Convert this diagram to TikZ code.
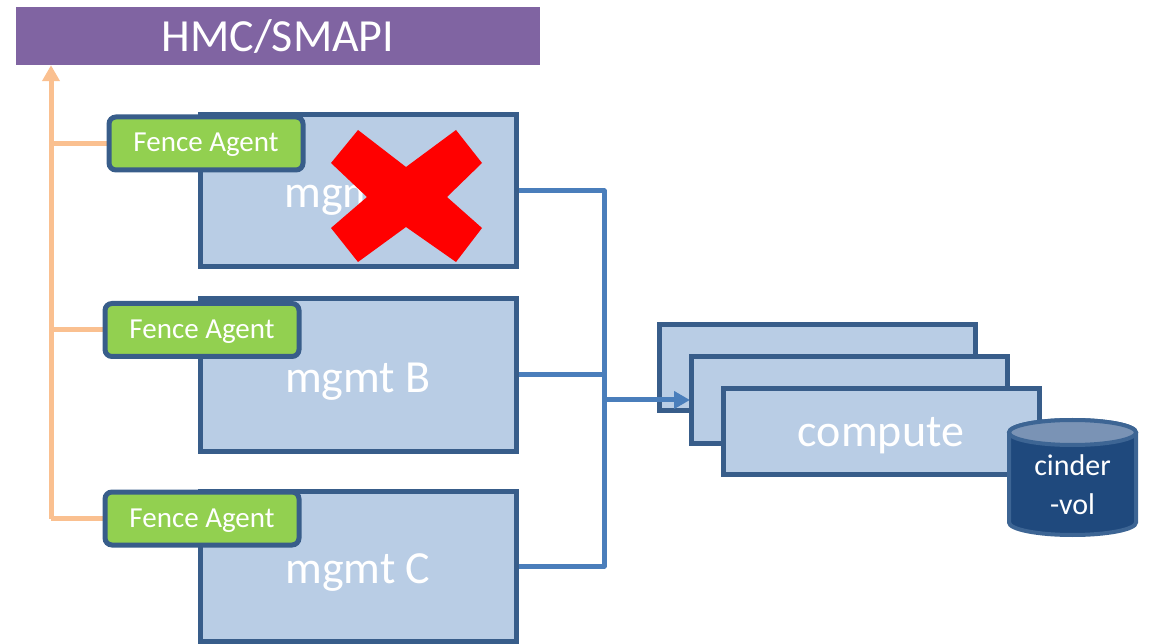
\documentclass[tikz,border=0pt]{standalone}
\usepackage{fontspec}
\setmainfont{Carlito}
\usetikzlibrary{arrows.meta}
\definecolor{hmcpurple}{HTML}{8064A2}
\definecolor{boxfill}{HTML}{B9CDE5}
\definecolor{boxline}{HTML}{385D8A}
\definecolor{agentgreen}{HTML}{92D050}
\definecolor{fenceorange}{HTML}{FAC090}
\definecolor{linkblue}{HTML}{4A7EBB}
\definecolor{cylbody}{HTML}{1F497D}
\definecolor{cyltop}{HTML}{7A93B5}
\definecolor{cylline}{HTML}{3D6594}
\begin{document}
\begin{tikzpicture}[x=1pt,y=-1pt,
  mbox/.style={draw=boxline, line width=5pt, fill=boxfill, text=white,
    font=\fontsize{46}{50}\selectfont, minimum width=316pt, minimum height=152pt,
    inner sep=0pt, text height=34pt, text depth=0pt},
  cbox/.style={mbox, minimum height=86pt, text height=30pt},
  agent/.style={draw=boxline, line width=5pt, fill=agentgreen, text=white, rounded corners=7pt,
    font=\fontsize{29}{32}\selectfont, minimum width=194pt, minimum height=53pt,
    inner sep=0pt, text height=17pt, text depth=0pt},
  fenceline/.style={draw=fenceorange, line width=5pt},
  link/.style={draw=linkblue, line width=5pt, line join=round},
  tip/.style={-{Triangle[length=16pt,width=17pt]}}
]
\useasboundingbox (0,0) rectangle (1152,644);

% management server
\node[fill=hmcpurple, text=white, font=\fontsize{46}{50}\selectfont,
  minimum width=524pt, minimum height=58pt, inner sep=0pt,
  text height=32pt, text depth=0pt] (hmc) at (278,36) {HMC/SMAPI};

% orange trunk carrying the fence agents up to the HMC
\coordinate (trunk) at (51,0);
\coordinate (fAw) at (107,143.5);
\coordinate (fBw) at (103,330);
\coordinate (fCw) at (103,518.5);
\draw[fenceline, tip] (fCw -| trunk) -- (hmc.south -| trunk);
\draw[fenceline] (fAw -| trunk) -- (fAw);
\draw[fenceline] (fBw -| trunk) -- (fBw);
\draw[fenceline] (fCw -| trunk) -- (fCw);

% management nodes
\node[mbox] (mA) at (358,191) {mgmt A};
\node[mbox] (mB) at (358,375) {mgmt B};
\node[mbox, minimum height=150pt] (mC) at (358,566) {mgmt C};

% fence agents
\node[agent] (fA) at (206,143.5) {Fence Agent};
\node[agent] (fB) at (202,330) {Fence Agent};
\node[agent] (fC) at (202,518.5) {Fence Agent};

% failed node
\fill[red] (358,130) -- (406,167) -- (456,130) -- (482,163) -- (447,197) -- (482,228)
  -- (456,262) -- (406,227) -- (358,262) -- (331,228) -- (367,197) -- (331,163) -- cycle;

% compute stack (back copy first)
\node[cbox] (c1) at (817,367.5) {};

% links from the management nodes to the compute nodes
\coordinate (bus) at (604,0);
\draw[link] (mA.east) -- (mA.east -| bus) -- (mC.east -| bus) -- (mC.east);
\draw[link] (mB.east) -- (mB.east -| bus);
\coordinate (c2w) at (690,400);
\draw[link, tip] (c2w -| bus) -- (c2w);
\node[cbox] (c2) at (849,400) {};
\node[cbox] (c3) at (881,431.5) {compute};

% cinder volume
\draw[cylline, fill=cylbody, line width=4pt] (1009,432.5) -- (1009,522.5)
  arc[start angle=180, end angle=0, x radius=63.5, y radius=12.5] -- (1136,432.5)
  arc[start angle=0, end angle=-180, x radius=63.5, y radius=12.5] -- cycle;
\draw[cylline, fill=cyltop, line width=4pt] (1072.5,432.5) ellipse[x radius=63.5, y radius=12.5];
\node[text=white, align=center, font=\fontsize{30}{39}\selectfont, inner sep=0pt] (cinder) at (1072.5,485) {cinder\\-vol};
\end{tikzpicture}
\end{document}
